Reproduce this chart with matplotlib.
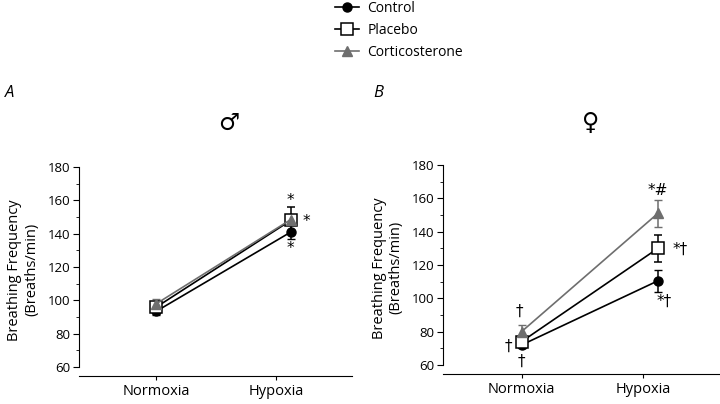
# breathing frequency in normoxia vs hypoxia, males (A) and females (B)

import numpy as np
import matplotlib
matplotlib.use('Agg')
import matplotlib.pyplot as plt
from matplotlib.ticker import MultipleLocator
from matplotlib.lines import Line2D

plt.rcParams['font.family'] = ['Open Sans', 'DejaVu Sans']

conditions = ['Normoxia', 'Hypoxia']
groups = ['Control', 'Placebo', 'Corticosterone']

# mean and SEM, order: Normoxia, Hypoxia
male_mean = {'Control': [93.5, 141], 'Placebo': [96, 148], 'Corticosterone': [98, 148.5]}
male_err = {'Control': [2, 4], 'Placebo': [3, 8], 'Corticosterone': [3, 3]}
female_mean = {'Control': [72, 110.5], 'Placebo': [74, 130], 'Corticosterone': [80, 151]}
female_err = {'Control': [2, 6.5], 'Placebo': [2, 8], 'Corticosterone': [4, 8]}

# significance marks: (text, x, y)
male_marks = [('*', 1.12, 160), ('*', 1.25, 147.5), ('*', 1.12, 131)]
female_marks = [('*#', 1.12, 165), ('*†', 1.30, 129.5), ('*†', 1.17, 98.5),
                ('†', -0.02, 92.5), ('†', -0.11, 71.5), ('†', 0.0, 62.5)]

x_pos = np.array([0, 1.12])
gray = '#6e6e6e'
style = {
    'Control': dict(color='k', marker='o', mfc='k', mec='k', ms=6.5),
    'Placebo': dict(color='k', marker='s', mfc='white', mec='k', ms=8, mew=1.1),
    'Corticosterone': dict(color=gray, marker='^', mfc=gray, mec=gray, ms=7.5),
}

fig = plt.figure(figsize=(7.2, 4.04), dpi=100)
axA = fig.add_axes([0.1097, 0.0693, 0.3793, 0.5255])
axB = fig.add_axes([0.6153, 0.0743, 0.3847, 0.5255])

for ax, means, errs, marks in [(axA, male_mean, male_err, male_marks),
                               (axB, female_mean, female_err, female_marks)]:
    for g in groups:
        ax.errorbar(x_pos, means[g], yerr=errs[g], lw=1.2, capsize=3, elinewidth=1.1,
                    ecolor=style[g]['color'], **style[g])
    for txt, x, y in marks:
        ax.text(x, y, txt, ha='center', va='center', fontsize=11, family='DejaVu Sans')
    ax.set_xlim(-0.645, 1.63)
    ax.set_ylim(54.6, 182)
    ax.spines['top'].set_visible(False)
    ax.spines['right'].set_visible(False)
    ax.spines['left'].set_bounds(60, 180)
    ax.set_xticks([0, 1])
    ax.set_xticklabels(conditions, fontsize=10.5)
    ax.yaxis.set_major_locator(MultipleLocator(20))
    ax.yaxis.set_minor_locator(MultipleLocator(10))
    ax.tick_params(axis='y', which='major', length=4, labelsize=9.5, pad=2)
    ax.tick_params(axis='y', which='minor', length=2.5)
    ax.tick_params(axis='x', length=3, pad=3)
    ax.set_ylabel('Breathing Frequency\n(Breaths/min)', fontsize=10.5, labelpad=6)

fig.text(0.007, 0.77, 'A', fontsize=12, style='italic', va='center')
fig.text(0.518, 0.77, 'B', fontsize=12, style='italic', va='center')
fig.text(0.317, 0.695, '♂', fontsize=17, ha='center', va='center', family='DejaVu Sans')
fig.text(0.821, 0.695, '♀', fontsize=17, ha='center', va='center', family='DejaVu Sans')

handles = [Line2D([], [], lw=1.2, **style[g]) for g in groups]
fig.legend(handles, groups, loc='upper left', bbox_to_anchor=(0.458, 1.012),
           frameon=False, fontsize=10, handlelength=1.7, handletextpad=0.6,
           labelspacing=0.5, borderaxespad=0)

fig.savefig('out.png', dpi=100)
